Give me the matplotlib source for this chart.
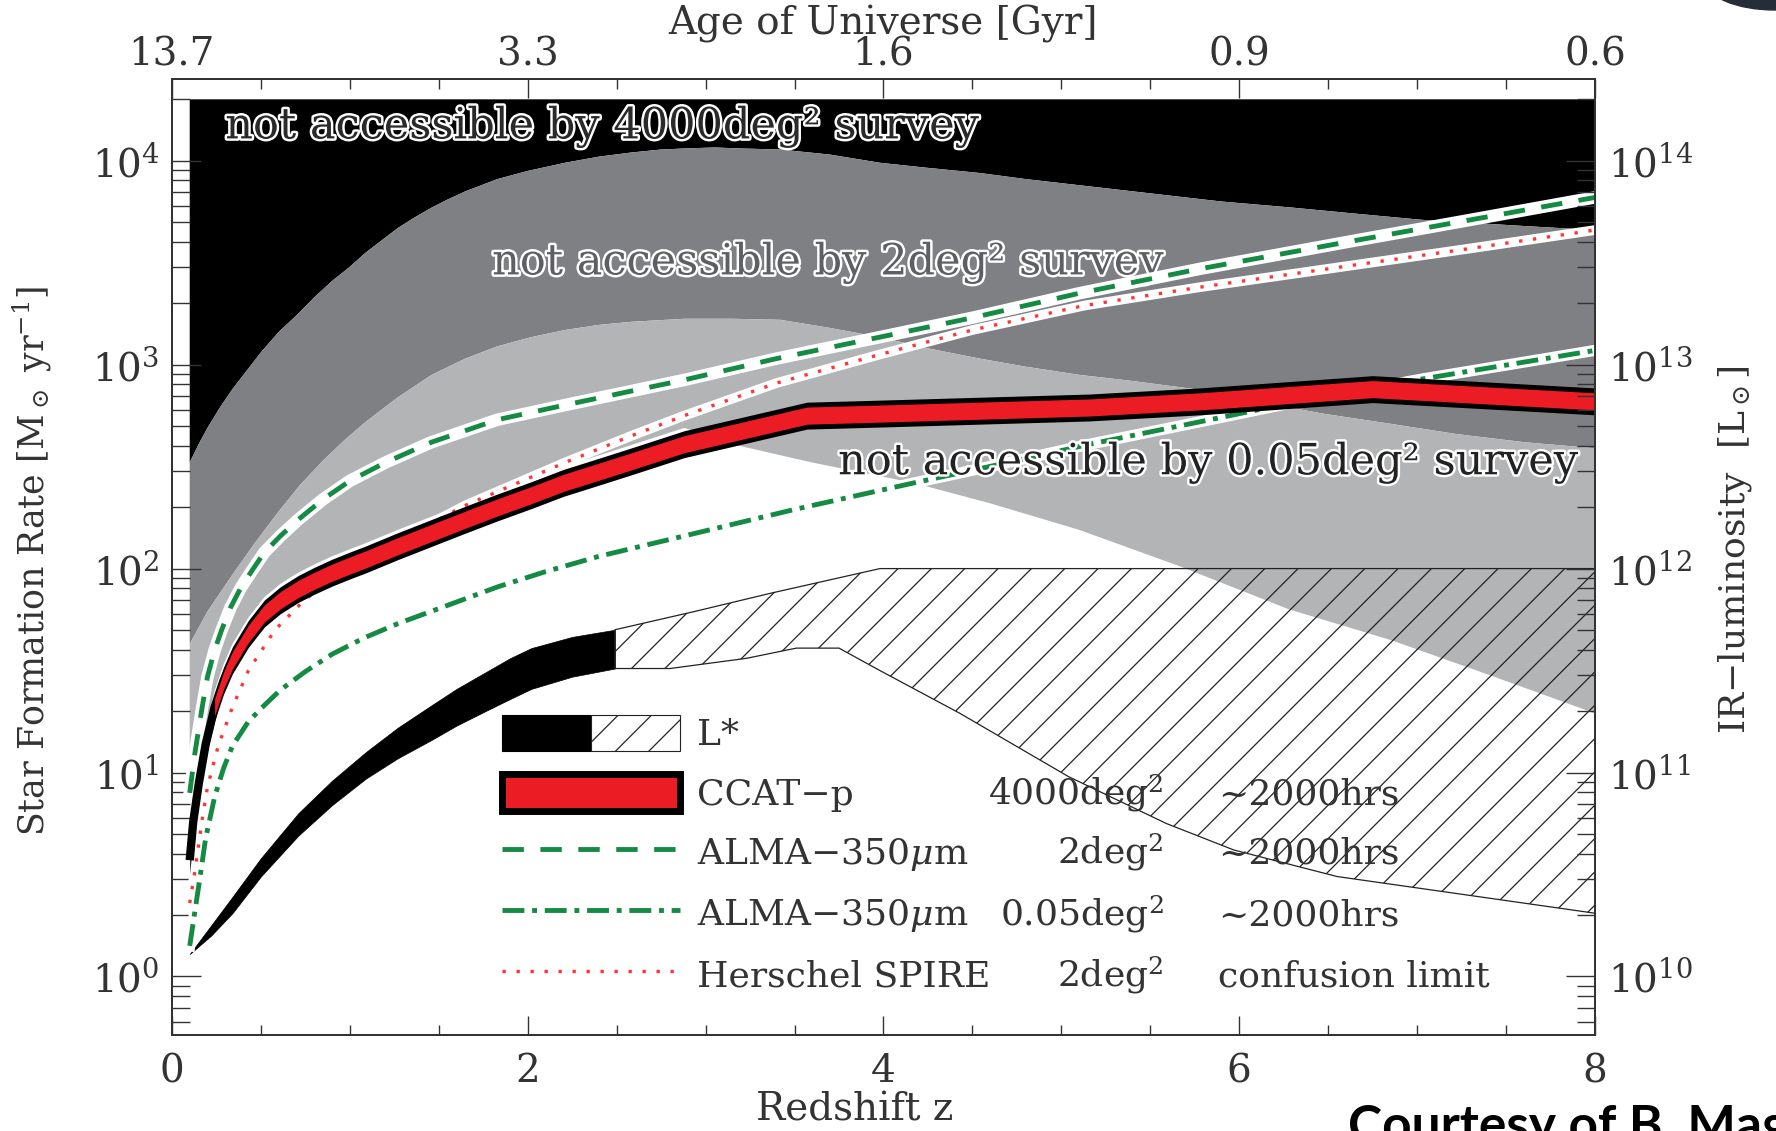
import numpy as np
import matplotlib
matplotlib.use("Agg")
import matplotlib.pyplot as plt
import matplotlib.patheffects as pe
from matplotlib.patches import Patch, Ellipse
from matplotlib.lines import Line2D
from matplotlib.legend_handler import HandlerTuple
from matplotlib.ticker import FixedLocator, MultipleLocator, LogLocator, NullFormatter

plt.rcParams['font.family'] = ['DejaVu Serif']
plt.rcParams['mathtext.fontset'] = 'dejavuserif'
plt.rcParams['hatch.linewidth'] = 0.9
plt.rcParams['text.color'] = '#333333'
plt.rcParams['axes.labelcolor'] = '#333333'
plt.rcParams['xtick.color'] = '#333333'
plt.rcParams['ytick.color'] = '#333333'

# survey limits, log10(SFR) against redshift
# lower edge of the black area (4000 deg^2)
z_lim4000 = [0.10, 0.15, 0.20, 0.27, 0.34, 0.42, 0.50, 0.60, 0.71, 0.80, 0.90, 1.00, 1.09,
             1.18, 1.27, 1.36, 1.46, 1.55, 1.65, 1.74, 1.83, 2.00, 2.21, 2.40, 2.58, 2.75,
             2.88, 3.05, 3.20, 3.42, 3.70, 3.98, 4.25, 4.54, 4.80, 5.10, 5.50, 5.90, 6.30,
             6.66, 7.03, 7.60, 8.00]
lg_lim4000 = [2.52, 2.61, 2.69, 2.79, 2.88, 2.97, 3.06, 3.16, 3.25, 3.33, 3.41, 3.48, 3.55,
              3.61, 3.67, 3.72, 3.77, 3.81, 3.85, 3.88, 3.91, 3.95, 3.99, 4.02, 4.04, 4.055,
              4.06, 4.065, 4.06, 4.055, 4.03, 3.99, 3.965, 3.94, 3.91, 3.88, 3.84, 3.80, 3.77,
              3.74, 3.71, 3.68, 3.66]
# lower edge of the dark grey area (2 deg^2)
z_lim2 = [0.10, 0.20, 0.34, 0.47, 0.60, 0.72, 0.85, 0.97, 1.09, 1.27, 1.46, 1.65, 1.83,
          2.02, 2.21, 2.40, 2.58, 2.88, 3.15, 3.42, 3.70, 3.98, 4.25, 4.54, 4.80, 5.10,
          5.40, 5.75, 6.10, 6.47, 6.85, 7.22, 7.60, 8.00]
lg_lim2 = [1.63, 1.79, 1.97, 2.13, 2.28, 2.41, 2.53, 2.63, 2.72, 2.84, 2.95, 3.03, 3.09,
           3.135, 3.17, 3.195, 3.21, 3.225, 3.225, 3.22, 3.18, 3.135, 3.08, 3.03, 2.99, 2.95,
           2.92, 2.88, 2.82, 2.76, 2.71, 2.66, 2.62, 2.59]
# lower edge of the light grey area (0.05 deg^2)
z_lim005 = [0.10, 0.15, 0.19, 0.24, 0.29, 0.34, 0.43, 0.52, 0.61, 0.71, 0.80, 0.90, 1.00,
            1.09, 1.27, 1.46, 1.65, 1.83, 2.02, 2.20, 2.40, 2.58, 2.88, 3.20, 3.60, 4.17,
            4.60, 5.10, 5.67, 6.28, 6.85, 7.40, 8.00]
lg_lim005 = [1.00, 1.02, 1.22, 1.40, 1.53, 1.63, 1.76, 1.86, 1.925, 1.98, 2.02, 2.06, 2.095,
             2.125, 2.19, 2.255, 2.32, 2.38, 2.44, 2.50, 2.555, 2.605, 2.69, 2.60, 2.52, 2.42,
             2.32, 2.19, 2.01, 1.80, 1.65, 1.48, 1.29]

# CCAT-p 4000 deg^2
z_ccat = [0.10, 0.12, 0.15, 0.19, 0.24, 0.29, 0.34, 0.43, 0.52, 0.61, 0.71, 0.80, 0.90,
          1.00, 1.09, 1.27, 1.46, 1.65, 1.83, 2.02, 2.20, 2.40, 2.58, 2.88, 3.57, 3.98,
          5.16, 5.78, 6.75, 8.00]
lg_ccat = [0.57, 0.76, 0.94, 1.14, 1.32, 1.45, 1.55, 1.68, 1.78, 1.845, 1.90, 1.94, 1.98,
           2.015, 2.045, 2.11, 2.175, 2.24, 2.30, 2.36, 2.42, 2.475, 2.525, 2.61, 2.75, 2.76,
           2.79, 2.82, 2.88, 2.82]
# ALMA 350um 2 deg^2
z_alma2 = [0.10, 0.13, 0.17, 0.20, 0.24, 0.28, 0.33, 0.39, 0.45, 0.52, 0.61, 0.71, 0.85,
           1.00, 1.20, 1.46, 1.83, 2.20, 2.58, 2.88, 3.40, 3.98, 4.50, 5.10, 5.78, 6.66,
           7.30, 8.00]
lg_alma2 = [0.90, 1.10, 1.32, 1.47, 1.60, 1.70, 1.81, 1.91, 1.99, 2.08, 2.16, 2.24, 2.34,
            2.43, 2.52, 2.62, 2.73, 2.80, 2.87, 2.925, 3.03, 3.135, 3.23, 3.35, 3.47, 3.61,
            3.71, 3.82]
# ALMA 350um 0.05 deg^2
z_alma005 = [0.10, 0.15, 0.19, 0.24, 0.29, 0.34, 0.43, 0.52, 0.61, 0.75, 0.90, 1.08, 1.27,
             1.55, 1.83, 2.10, 2.40, 2.88, 3.50, 4.17, 4.70, 5.16, 5.78, 6.28, 7.03, 8.00]
lg_alma005 = [0.15, 0.44, 0.68, 0.88, 1.02, 1.13, 1.25, 1.33, 1.405, 1.495, 1.58, 1.66, 1.73,
              1.82, 1.91, 1.985, 2.06, 2.16, 2.29, 2.42, 2.52, 2.61, 2.72, 2.81, 2.93, 3.07]
# Herschel SPIRE confusion limit
z_spire = [0.10, 0.13, 0.17, 0.20, 0.26, 0.34, 0.43, 0.58, 0.75, 0.93, 1.10, 1.30, 1.65,
           2.21, 2.58, 2.88, 3.40, 3.98, 4.50, 5.13, 5.78, 6.66, 7.30, 8.00]
lg_spire = [0.36, 0.52, 0.77, 0.93, 1.13, 1.32, 1.50, 1.70, 1.85, 1.96, 2.05, 2.15, 2.31,
            2.52, 2.65, 2.75, 2.91, 3.05, 3.17, 3.29, 3.38, 3.49, 3.57, 3.66]

# L* band (measured) and its extrapolation (hatched)
z_lstar = [0.10, 0.22, 0.34, 0.50, 0.71, 0.90, 1.09, 1.27, 1.46, 1.60, 1.76, 1.90, 2.02,
           2.25, 2.49]
lg_lstar_hi = [0.11, 0.25, 0.39, 0.58, 0.80, 0.96, 1.10, 1.22, 1.33, 1.41, 1.49, 1.56, 1.61,
               1.665, 1.70]
lg_lstar_lo = [0.11, 0.20, 0.31, 0.49, 0.69, 0.84, 0.97, 1.07, 1.16, 1.23, 1.30, 1.36, 1.41,
               1.47, 1.51]
z_hatch_top = [2.49, 2.94, 3.37, 3.98, 8.00]
lg_hatch_top = [1.70, 1.79, 1.88, 2.00, 2.00]
z_hatch_bot = [2.49, 2.80, 3.23, 3.51, 3.75, 3.98, 4.43, 5.04, 5.59, 5.97, 6.55, 8.00]
lg_hatch_bot = [1.51, 1.51, 1.56, 1.61, 1.61, 1.50, 1.29, 0.98, 0.75, 0.62, 0.49, 0.31]

sfr_top = 2e4

z_ticks = [0, 2, 4, 6, 8]
z_ticklabels = ['0', '2', '4', '6', '8']
age_labels = ['13.7', '3.3', '1.6', '0.9', '0.6']

leg_names = ['L*', 'CCAT\u2212p', 'ALMA\u2212350$\\mu$m', 'ALMA\u2212350$\\mu$m', 'Herschel SPIRE']
leg_area = ['', '4000deg$^2$', '2deg$^2$', '0.05deg$^2$', '2deg$^2$']
leg_time = ['', '~2000hrs', '~2000hrs', '~2000hrs', 'confusion limit']

DARK = '#7f8084'
LIGHT = '#b3b4b6'
GREEN = '#158a42'
RED = '#ec1c24'
DOT_RED = '#ff3535'
TICK_FS = 28
LEG_FS = 26
REGION_FS = 31

fig = plt.figure(figsize=(17.76, 11.31), dpi=100)
ax = fig.add_axes([0.0968, 0.0849, 0.8013, 0.8453])
ax.set_yscale('log')
ax.set_xlim(0, 8)
ax.set_ylim(10 ** -0.287, 10 ** 4.401)

def sfr(v):
    return 10 ** np.asarray(v, dtype=float)

# grey "not accessible" areas
ax.fill(np.r_[z_lim4000, z_lim4000[-1], z_lim4000[0]],
        np.r_[sfr(lg_lim4000), sfr_top, sfr_top], color='black', lw=0, zorder=1)
ax.fill(np.r_[z_lim4000, z_lim2[::-1]], np.r_[sfr(lg_lim4000), sfr(lg_lim2)[::-1]],
        color=DARK, lw=0, zorder=1)
ax.fill(np.r_[z_lim2, z_lim005[::-1]], np.r_[sfr(lg_lim2), sfr(lg_lim005)[::-1]],
        color=LIGHT, lw=0, zorder=1)

# L* band
ax.fill_between(z_lstar, sfr(lg_lstar_lo), sfr(lg_lstar_hi), color='black', lw=0.5, zorder=2)
ax.fill(np.r_[z_hatch_top, z_hatch_bot[::-1]], np.r_[sfr(lg_hatch_top), sfr(lg_hatch_bot)[::-1]],
        facecolor='none', edgecolor='#222222', hatch='/', lw=0.9, zorder=2)

# region labels
ax.text(0.30, 10 ** 4.167, 'not accessible by 4000deg\u00b2 survey', fontsize=REGION_FS,
        color='#2a2a2a', va='center', zorder=2.5,
        path_effects=[pe.Stroke(linewidth=3.5, foreground='white'), pe.Normal()])
ax.text(1.80, 10 ** 3.50, 'not accessible by 2deg\u00b2 survey', fontsize=REGION_FS,
        color='#5e5f62', va='center', zorder=2.5,
        path_effects=[pe.Stroke(linewidth=3.5, foreground='white'), pe.Normal()])

# survey lines with white halos
ax.plot(z_alma005, sfr(lg_alma005), color='white', lw=8, zorder=3)
ax.plot(z_alma005, sfr(lg_alma005), color=GREEN, lw=3.5, dashes=(4.5, 1.6, 1.0, 1.6), zorder=3.1)
ax.plot(z_spire, sfr(lg_spire), color='white', lw=7, zorder=3)
ax.plot(z_spire, sfr(lg_spire), color=DOT_RED, lw=2.4, dashes=(1, 3.2), zorder=3.1)
ax.plot(z_alma2, sfr(lg_alma2), color='white', lw=9, zorder=3)
ax.plot(z_alma2, sfr(lg_alma2), color=GREEN, lw=3.5, dashes=(4.4, 3.4), zorder=3.1)

# CCAT-p band
zc = np.asarray(z_ccat)
lc = np.asarray(lg_ccat)
ax.fill_between(zc, sfr(lc - 0.066), sfr(lc + 0.066), color='black', lw=0, zorder=4.1)
ax.plot(zc, sfr(lc), color='black', lw=6, solid_capstyle='butt', zorder=4.1)
red_part = zc >= 0.2
ax.fill_between(zc[red_part], sfr(lc[red_part] - 0.042), sfr(lc[red_part] + 0.042),
                color=RED, lw=0, zorder=4.2)

ax.text(3.745, 10 ** 2.52, 'not accessible by 0.05deg\u00b2 survey', fontsize=REGION_FS,
        color='#222222', va='center', zorder=6,
        path_effects=[pe.Stroke(linewidth=3.5, foreground='white'), pe.Normal()])

# axes, ticks
for s in ax.spines.values():
    s.set_color('#333333')
    s.set_linewidth(1.2)
ax.xaxis.set_major_locator(FixedLocator(z_ticks))
ax.set_xticklabels(z_ticklabels)
ax.xaxis.set_minor_locator(MultipleLocator(0.5))
ax.yaxis.set_major_locator(LogLocator(base=10))
ax.yaxis.set_minor_locator(LogLocator(base=10, subs=np.arange(2, 10)))
ax.yaxis.set_minor_formatter(NullFormatter())
ax.tick_params(which='both', direction='in', top=False, right=False, width=1.0)
ax.tick_params(axis='y', which='major', length=21, pad=9, labelsize=TICK_FS)
ax.tick_params(axis='y', which='minor', length=13)
ax.tick_params(axis='x', which='major', length=14, pad=13, labelsize=TICK_FS)
ax.tick_params(axis='x', which='minor', length=7)
ax.set_xlabel('Redshift z', fontsize=28)
ax.xaxis.set_label_coords(0.48, -0.059)
ax.set_ylabel('Star Formation Rate [M$_\\odot$ yr$^{-1}$]', fontsize=25)
ax.yaxis.set_label_coords(-0.083, 0.496)

ax_top = ax.twiny()
ax_top.set_xlim(0, 8)
ax_top.xaxis.set_major_locator(FixedLocator(z_ticks))
ax_top.set_xticklabels(age_labels)
ax_top.xaxis.set_minor_locator(MultipleLocator(0.5))
ax_top.tick_params(which='both', direction='in', width=1.0)
ax_top.tick_params(which='major', length=14, pad=3.6, labelsize=TICK_FS)
ax_top.tick_params(which='minor', length=7)
ax_top.set_xlabel('Age of Universe [Gyr]', fontsize=28)
ax_top.xaxis.set_label_coords(0.5, 1.046)

ax_r = ax.twinx()
ax_r.set_yscale('log')
ylo, yhi = ax.get_ylim()
ax_r.set_ylim(ylo * 1e10, yhi * 1e10)
ax_r.yaxis.set_major_locator(LogLocator(base=10))
ax_r.yaxis.set_minor_locator(LogLocator(base=10, subs=np.arange(2, 10)))
ax_r.yaxis.set_minor_formatter(NullFormatter())
ax_r.tick_params(which='both', direction='in', width=1.0)
ax_r.tick_params(which='major', length=21, pad=9, labelsize=TICK_FS)
ax_r.tick_params(which='minor', length=13)
ax_r.set_ylabel('IR\u2212luminosity  [L$_\\odot$]', fontsize=26)
ax_r.yaxis.set_label_coords(1.085, 0.508)
for a in (ax_top, ax_r):
    for s in a.spines.values():
        s.set_color('#333333')
        s.set_linewidth(1.2)

# legend
h_lstar = (Patch(facecolor='black', edgecolor='black', lw=0.8),
           Patch(facecolor='white', edgecolor='#222222', hatch='/', lw=0.8))
h_ccat = Patch(facecolor=RED, edgecolor='black', lw=5)
h_alma2 = Line2D([], [], color=GREEN, lw=3.5, dashes=(4.4, 3.4))
h_alma005 = Line2D([], [], color=GREEN, lw=3.5, dashes=(4.5, 1.6, 1.0, 1.6))
h_spire = Line2D([], [], color=DOT_RED, lw=2.4, dashes=(1, 3.2))
leg = ax_r.legend([h_lstar, h_ccat, h_alma2, h_alma005, h_spire], leg_names,
                  handler_map={tuple: HandlerTuple(ndivide=None, pad=0)},
                  loc='upper left', bbox_to_anchor=(0.232, 0.335), frameon=False,
                  fontsize=LEG_FS, handlelength=4.93, handleheight=1.19, labelspacing=0.60,
                  handletextpad=0.47, borderpad=0, borderaxespad=0, labelcolor='#333333')
leg.set_zorder(7)

fig.canvas.draw()
for txt, area, time in zip(leg.get_texts(), leg_area, leg_time):
    if not area:
        continue
    xd, yd = txt.get_transform().transform(txt.get_position())
    ya = ax_r.transAxes.inverted().transform((xd, yd))[1]
    ax_r.text(0.697, ya, area, transform=ax_r.transAxes, ha='right', va='baseline',
              fontsize=LEG_FS, zorder=8)
    ax_r.text(0.735, ya, time, transform=ax_r.transAxes, ha='left', va='baseline',
              fontsize=LEG_FS, zorder=8)

# slide credit and corner decoration
fig.text(1348 / 1776, -0.009, 'Courtesy of B. Magnelli', fontsize=37, fontweight='bold',
         family=['Lato', 'DejaVu Sans'], color='black', va='baseline')
fig.add_artist(Ellipse((1775 / 1776, 1 + 20 / 1131), 140 / 1776, 60 / 1131,
                       transform=fig.transFigure, color='#252d38'))

fig.savefig('out.png', dpi=100)
